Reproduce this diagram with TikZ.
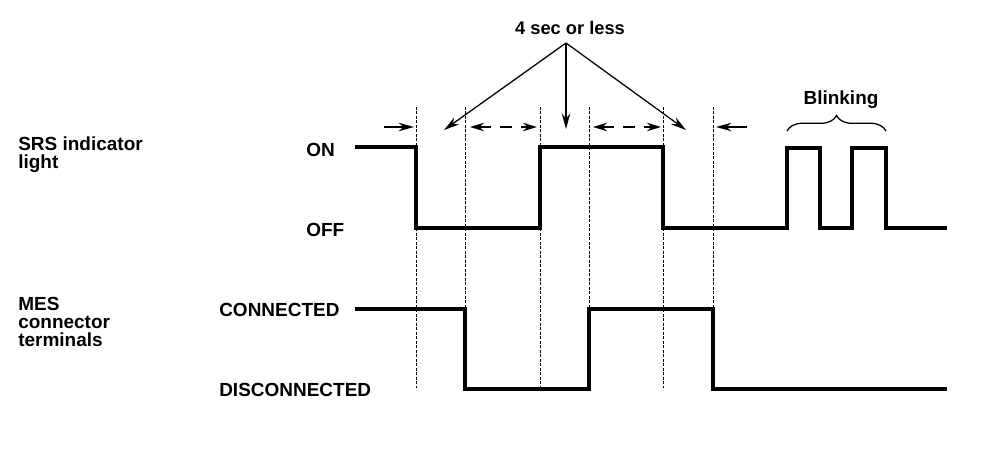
\documentclass[tikz,border=0pt]{standalone}
\usepackage{fontspec}
\setmainfont{Liberation Sans}
\usetikzlibrary{arrows.meta,decorations.pathreplacing}

\begin{document}
\begin{tikzpicture}[x=0.025cm,y=-0.025cm,
    lbl/.style={font=\bfseries\fontsize{13.5}{12.8}\selectfont, inner sep=0pt},
    wave/.style={line width=2.2pt},
    guide/.style={line width=0.5pt, dash pattern=on 2pt off 1.2pt},
    lead/.style={-{Stealth[length=11pt,width=6pt]}, line width=0.9pt},
    gap/.style={{Stealth[length=10pt,width=6pt]}-{Stealth[length=10pt,width=6pt]}, line width=1.2pt, dash pattern=on 9pt off 6pt}]
    \useasboundingbox (0,0) rectangle (1008,452);

    \node[lbl, anchor=north west, align=left] (srs) at (18,136) {SRS indicator\\light};
    \node[lbl, anchor=north west, align=left] (mes) at (18,297) {MES\\connector\\terminals};
    \node[lbl, anchor=base west] (on) at (306,157) {ON};
    \node[lbl, anchor=base west] (off) at (306,237) {OFF};
    \node[lbl, anchor=base west] (conn) at (219,317) {CONNECTED};
    \node[lbl, anchor=base west] (disc) at (219,397) {DISCONNECTED};
    \node[lbl, anchor=base, font=\bfseries\fontsize{13}{13}\selectfont] (sec) at (570,35) {4 sec or less};
    \node[lbl, anchor=base] (blink) at (841,105) {Blinking};

    \foreach \x in {416,465,540,589,663,713} {
        \draw[guide] (\x,107) to (\x,388);
    }

    \draw[wave] (355,147) -- (416,147) -- (416,228) -- (540,228) -- (540,147) -- (663,147)
        -- (663,228) -- (787,228) -- (787,148) -- (820,148) -- (820,228) -- (852,228)
        -- (852,148) -- (886,148) -- (886,228) -- (947,228);
    \draw[wave] (355,309) -- (465,309) -- (465,389) -- (589,389) -- (589,309) -- (713,309)
        -- (713,389) -- (947,389);

    \coordinate (apex) at (566,43);
    \coordinate (tl) at (444,130);
    \coordinate (tc) at (566,129);
    \coordinate (tr) at (686,130);
    \draw[lead] (apex) to (tl);
    \draw[lead, line width=1.3pt] (apex) to (tc);
    \draw[lead] (apex) to (tr);

    \coordinate (a1) at (384,127);
    \coordinate (a2) at (414,127);
    \coordinate (b1) at (470,127);
    \coordinate (b2) at (537,127);
    \coordinate (c1) at (593,127);
    \coordinate (c2) at (661,127);
    \coordinate (d1) at (747,127);
    \coordinate (d2) at (716,127);
    \draw[lead, line width=1.2pt] (a1) to (a2);
    \draw[gap] (b1) to (b2);
    \draw[gap] (c1) to (c2);
    \draw[lead, line width=1.2pt] (d1) to (d2);

    \coordinate (br1) at (787,131);
    \coordinate (br2) at (886,131);
    \draw[line width=0.9pt, decorate, decoration={brace, amplitude=11pt}] (br1) to (br2);
\end{tikzpicture}
\end{document}
